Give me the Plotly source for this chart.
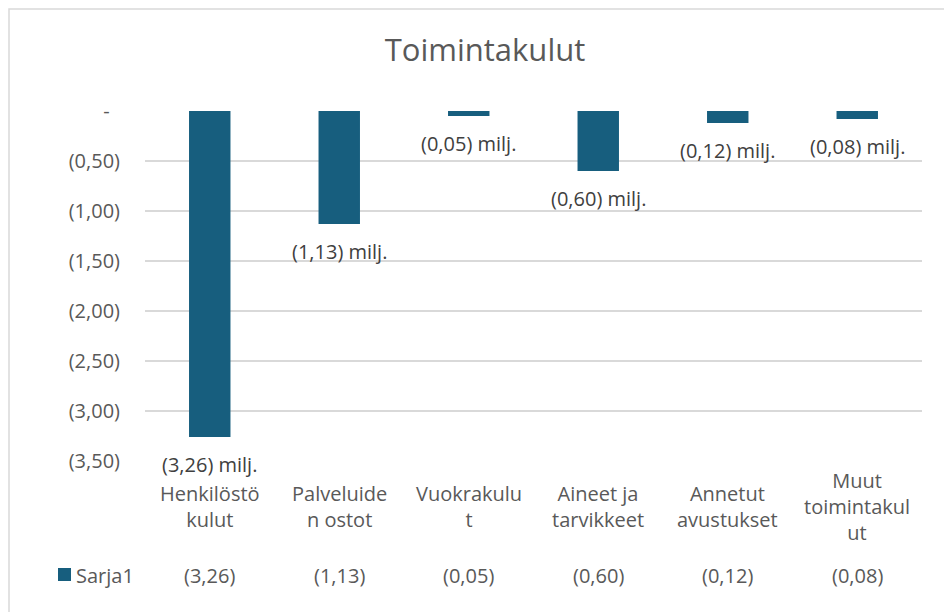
import plotly.graph_objects as go

categories = ["Henkilöstökulut", "Palveluiden ostot", "Vuokrakulut",
              "Aineet ja tarvikkeet", "Annetut avustukset", "Muut toimintakulut"]
category_labels = ["Henkilöstö<br>kulut", "Palveluide<br>n ostot", "Vuokrakulu<br>t",
                   "Aineet ja<br>tarvikkeet", "Annetut<br>avustukset", "Muut<br>toimintakul<br>ut"]
values = [-3.26, -1.13, -0.05, -0.60, -0.12, -0.08]
value_labels = ["(3,26)", "(1,13)", "(0,05)", "(0,60)", "(0,12)", "(0,08)"]
series_name = "Sarja1"
tick_vals = [0, -0.5, -1.0, -1.5, -2.0, -2.5, -3.0, -3.5]
tick_text = ["-\u00a0\u00a0", "(0,50)", "(1,00)", "(1,50)", "(2,00)", "(2,50)", "(3,00)", "(3,50)"]

OFF = 8  # page body margin
W, H = 952 - OFF, 612 - OFF
L, T = 145 - OFF, 111 - OFF
R = W - (922 - OFF)
B = H - (461 - OFF)
ph = H - T - B
pw = W - L - R

def py(pix):
    return (H - B - (pix - OFF)) / ph

def px(pix):
    return (pix - OFF - L) / pw

FONT = "Open Sans, Lato, sans-serif"
BAR = "#175E7E"
GRAY = "#595959"
DARK = "#404040"
FS = 20

fig = go.Figure()
fig.add_trace(go.Bar(x=categories, y=values, name=series_name, marker=dict(color=BAR, line=dict(width=0)),
                     width=0.32, showlegend=False, hoverinfo="skip"))

annotations = []
for c, v, vl in zip(categories, values, value_labels):
    annotations.append(dict(x=c, y=v, xref="x", yref="y", text=vl + " milj.", showarrow=False,
                            yanchor="middle", yshift=-27, font=dict(family=FONT, size=FS, color=DARK)))
for c, cl in zip(categories, category_labels):
    annotations.append(dict(x=c, y=py(506), xref="x", yref="paper", text=cl, showarrow=False,
                            yanchor="middle", font=dict(family=FONT, size=FS, color=GRAY)))
for c, vl in zip(categories, value_labels):
    annotations.append(dict(x=c, y=py(575), xref="x", yref="paper", text=vl, showarrow=False,
                            yanchor="middle", font=dict(family=FONT, size=FS, color=GRAY)))
annotations.append(dict(x=px(74), y=py(575), xref="paper", yref="paper", text=series_name, showarrow=False,
                        xanchor="left", yanchor="middle", font=dict(family=FONT, size=FS, color=GRAY)))

bx0, by0 = px(OFF + 1), py(OFF + 1)
bx1, by1 = px(952), py(612)
shapes = [
    dict(type="rect", xref="paper", yref="paper", x0=px(58), x1=px(71), y0=py(568), y1=py(581),
         fillcolor=BAR, line=dict(width=0)),
    dict(type="path", xref="paper", yref="paper",
         path=f"M {bx0},{by1} L {bx0},{by0} L {bx1},{by0}",
         line=dict(color="#D9D9D9", width=1.5)),
]

fig.update_layout(
    width=W, height=H,
    margin=dict(l=L, r=R, t=T, b=B, pad=0),
    paper_bgcolor="white", plot_bgcolor="white",
    title=dict(text="Toimintakulut", x=px(485), xref="paper", xanchor="center", y=1 - (50 - OFF) / H,
               yanchor="middle", font=dict(family=FONT, size=31, color=GRAY)),
    xaxis=dict(showticklabels=False, showgrid=False, zeroline=False, showline=False, fixedrange=True),
    yaxis=dict(range=[-3.5, 0], tickvals=tick_vals, ticktext=tick_text, showgrid=True,
               gridcolor="#D9D9D9", gridwidth=1.5, zeroline=False, showline=False,
               tickfont=dict(family=FONT, size=FS, color=GRAY), ticklabelstandoff=24),
    annotations=annotations, shapes=shapes, bargap=0.68,
)

fig.write_html("out.html")
